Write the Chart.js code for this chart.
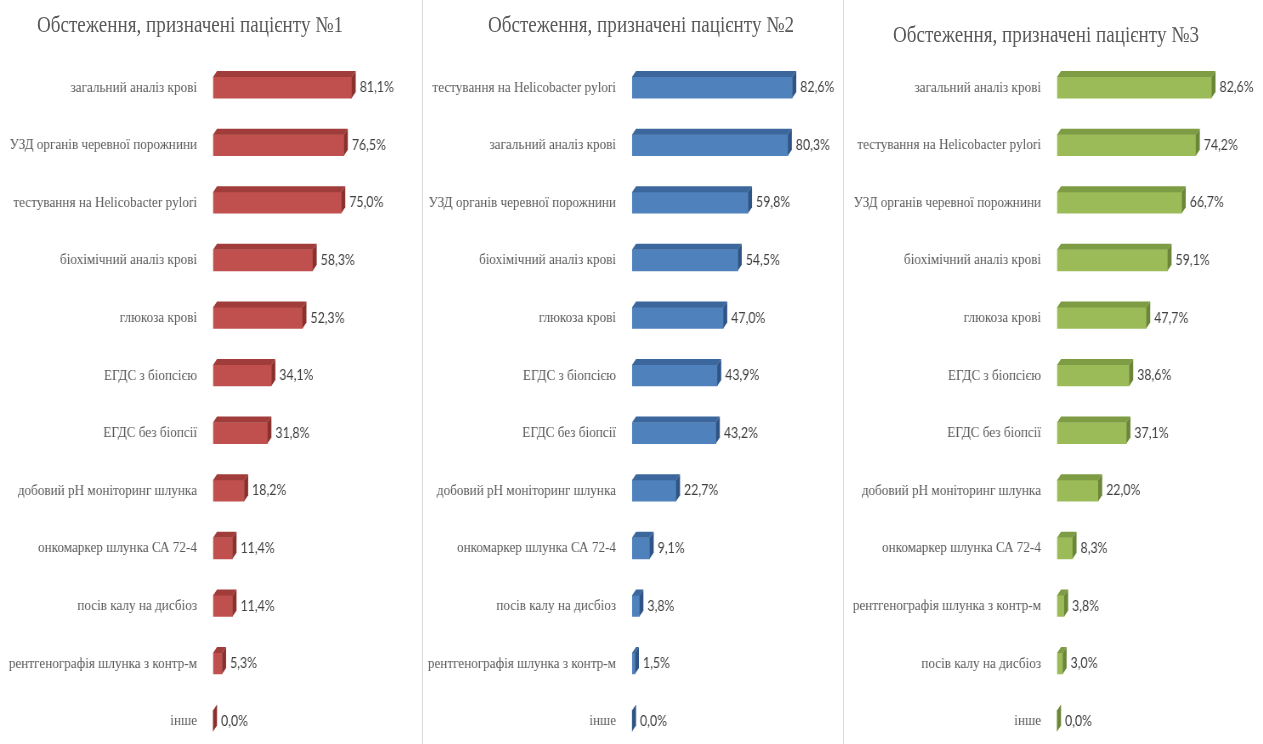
<!DOCTYPE html>
<html>
<head>
<meta charset="utf-8">
<title>Обстеження, призначені пацієнтам</title>
<script src="https://cdn.jsdelivr.net/npm/chart.js@4.4.1/dist/chart.umd.min.js"></script>
<style>
  html, body { margin: 0; padding: 0; background: #fff; overflow: hidden; }
  #wrap { position: relative; width: 1263px; height: 744px; overflow: hidden; }
  .panel { position: absolute; top: 0; height: 744px; overflow: hidden; box-sizing: border-box; }
  .panel.sep { border-left: 1px solid #d9d9d9; }
  .squeeze { position: absolute; left: 0; top: 0; transform-origin: 0 0; }
  .squeeze canvas { display: block; }
  .title {
    position: absolute; white-space: nowrap; transform: translate(-50%, -50%);
    font-family: "Liberation Serif", "Times New Roman", serif; font-size: 22.5px; color: #595959;
  }
</style>
</head>
<body>
<div id="wrap"></div>
<script>
// ===============================
// DATA
// ===============================
const title1 = 'Обстеження, призначені пацієнту №1';
const labels1 = ['загальний аналіз крові', 'УЗД органів черевної порожнини', 'тестування на Helicobacter pylori',
  'біохімічний аналіз крові', 'глюкоза крові', 'ЕГДС з біопсією', 'ЕГДС без біопсії',
  'добовий pH моніторинг шлунка', 'онкомаркер шлунка СА 72-4', 'посів калу на дисбіоз',
  'рентгенографія шлунка з контр-м', 'інше'];
const values1 = [81.1, 76.5, 75.0, 58.3, 52.3, 34.1, 31.8, 18.2, 11.4, 11.4, 5.3, 0.0];

const title2 = 'Обстеження, призначені пацієнту №2';
const labels2 = ['тестування на Helicobacter pylori', 'загальний аналіз крові', 'УЗД органів черевної порожнини',
  'біохімічний аналіз крові', 'глюкоза крові', 'ЕГДС з біопсією', 'ЕГДС без біопсії',
  'добовий pH моніторинг шлунка', 'онкомаркер шлунка СА 72-4', 'посів калу на дисбіоз',
  'рентгенографія шлунка з контр-м', 'інше'];
const values2 = [82.6, 80.3, 59.8, 54.5, 47.0, 43.9, 43.2, 22.7, 9.1, 3.8, 1.5, 0.0];

const title3 = 'Обстеження, призначені пацієнту №3';
const labels3 = ['загальний аналіз крові', 'тестування на Helicobacter pylori', 'УЗД органів черевної порожнини',
  'біохімічний аналіз крові', 'глюкоза крові', 'ЕГДС з біопсією', 'ЕГДС без біопсії',
  'добовий pH моніторинг шлунка', 'онкомаркер шлунка СА 72-4', 'рентгенографія шлунка з контр-м',
  'посів калу на дисбіоз', 'інше'];
const values3 = [82.6, 74.2, 66.7, 59.1, 47.7, 38.6, 37.1, 22.0, 8.3, 3.8, 3.0, 0.0];

// ===============================
// LAYOUT / STYLE
// ===============================
const SQ = 0.85;          // horizontal squeeze of each panel
const H = 778;            // canvas height (bottom part is clipped)
const TOP_PAD = 58.75;
const BOTTOM_PAD = 11.25;

const PANELS = [
  { title: title1, labels: labels1, values: values1, left: 0,   width: 422, barLeft: 213, pxPerPct: 1.71,
    titleX: 190, titleY: 25, front: '#C0504D', topFace: '#A03D3A', side: '#8A302D' },
  { title: title2, labels: labels2, values: values2, left: 422, width: 421, barLeft: 209, pxPerPct: 1.94,
    titleX: 218, titleY: 25, front: '#4F81BD', topFace: '#3C679C', side: '#2E5485' },
  { title: title3, labels: labels3, values: values3, left: 843, width: 420, barLeft: 213, pxPerPct: 1.87,
    titleX: 202, titleY: 35, front: '#9BBB59', topFace: '#7E9C43', side: '#6A8636' }
];

const fmtPct = (v) => v.toFixed(1).replace('.', ',') + '%';

// ===============================
// 3D BAR FACES + VALUE LABELS
// ===============================
const bar3d = {
  id: 'bar3d',
  afterDatasetsDraw(chart, args, opts) {
    const ctx = chart.ctx;
    const meta = chart.getDatasetMeta(0);
    const data = chart.data.datasets[0].data;
    const dx = opts.dx, dy = opts.dy;
    ctx.save();
    meta.data.forEach((bar, i) => {
      const { x, y, base, height } = bar.getProps(['x', 'y', 'base', 'height'], true);
      const top = y - height / 2, bottom = y + height / 2;

      // top face
      ctx.fillStyle = opts.topColor;
      ctx.beginPath();
      ctx.moveTo(base, top);
      ctx.lineTo(x, top);
      ctx.lineTo(x + dx, top - dy);
      ctx.lineTo(base + dx, top - dy);
      ctx.closePath();
      ctx.fill();

      // side face
      ctx.fillStyle = opts.sideColor;
      ctx.beginPath();
      ctx.moveTo(x, top);
      ctx.lineTo(x + dx, top - dy);
      ctx.lineTo(x + dx, bottom - dy);
      ctx.lineTo(x, bottom);
      ctx.closePath();
      ctx.fill();

      // value label
      ctx.fillStyle = '#404040';
      ctx.font = '14.5px Lato, "Liberation Sans", sans-serif';
      ctx.textAlign = 'left';
      ctx.textBaseline = 'middle';
      ctx.fillText(fmtPct(data[i]), x + dx + opts.gap, y);
    });
    ctx.restore();
  }
};

// ===============================
// BUILD
// ===============================
function makePanel(p, idx) {
  const wrap = document.getElementById('wrap');
  const panel = document.createElement('div');
  panel.className = 'panel' + (idx > 0 ? ' sep' : '');
  panel.style.left = p.left + 'px';
  panel.style.width = p.width + 'px';

  const w = Math.round(p.width / SQ);
  const inner = document.createElement('div');
  inner.className = 'squeeze';
  inner.style.width = w + 'px';
  inner.style.height = H + 'px';
  inner.style.transform = `scaleX(${SQ})`;

  const canvas = document.createElement('canvas');
  canvas.width = w;
  canvas.height = H;
  canvas.style.width = w + 'px';
  canvas.style.height = H + 'px';

  const t = document.createElement('div');
  t.className = 'title';
  t.textContent = p.title;
  t.style.left = (p.titleX / SQ) + 'px';
  t.style.top = p.titleY + 'px';

  inner.appendChild(canvas);
  inner.appendChild(t);
  panel.appendChild(inner);
  wrap.appendChild(panel);

  const axisW = p.barLeft / SQ;
  const rightPad = w - axisW - (100 * p.pxPerPct) / SQ;

  new Chart(canvas.getContext('2d'), {
    type: 'bar',
    data: {
      labels: p.labels,
      datasets: [{ data: p.values, backgroundColor: p.front, borderWidth: 0, barThickness: 21 }]
    },
    options: {
      indexAxis: 'y',
      responsive: false,
      animation: false,
      devicePixelRatio: 1,
      layout: { padding: { top: TOP_PAD, bottom: BOTTOM_PAD, left: 0, right: rightPad } },
      plugins: {
        legend: { display: false },
        tooltip: { enabled: false },
        bar3d: { dx: 4 / SQ, dy: 6, gap: 4 / SQ, topColor: p.topFace, sideColor: p.side }
      },
      scales: {
        x: { display: false, min: 0, max: 100 },
        y: {
          grid: { display: false, drawTicks: false },
          border: { display: false },
          ticks: {
            autoSkip: false,
            padding: 16 / SQ,
            color: '#595959',
            font: { family: '"Liberation Serif", "Times New Roman", serif', size: 15.5 }
          },
          afterFit: (scale) => { scale.width = axisW; }
        }
      }
    },
    plugins: [bar3d]
  });
}

PANELS.forEach(makePanel);
</script>
</body>
</html>
